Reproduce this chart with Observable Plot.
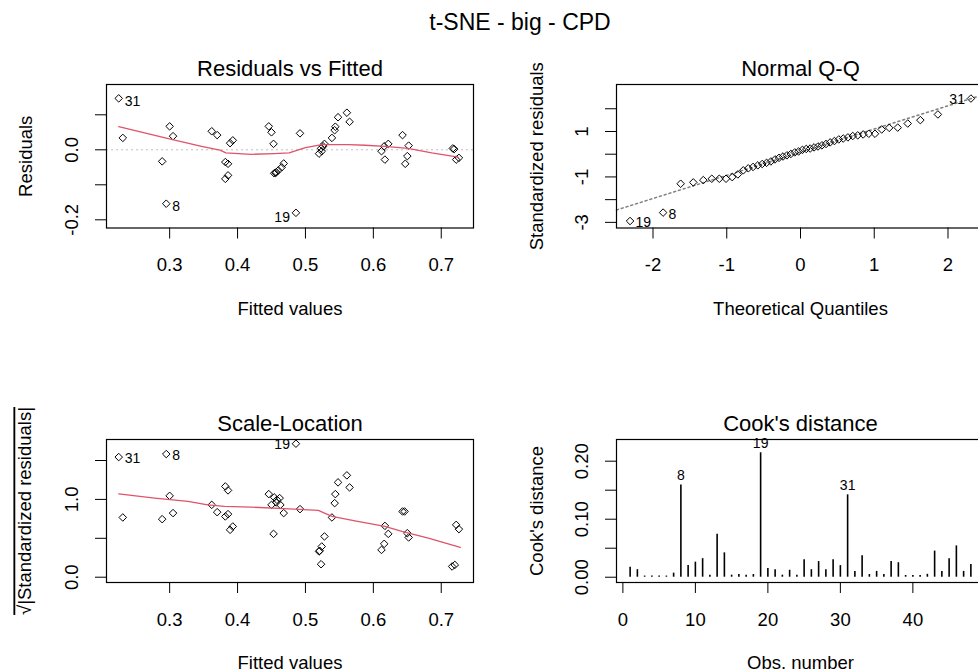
<!DOCTYPE html>
<html><head><meta charset="utf-8">
<script src="https://cdn.jsdelivr.net/npm/d3@7"></script>
<script src="https://cdn.jsdelivr.net/npm/@observablehq/plot@0.6"></script>
<style>
html,body{margin:0;padding:0;background:#fff;overflow:hidden;width:978px;height:672px;}
#wrap{position:relative;width:1040px;height:672px;font-family:"Liberation Sans",Arial,sans-serif;}
#title{position:absolute;left:0;top:9px;width:1040px;text-align:center;font-size:23px;line-height:26px;color:#000;}
.panel{position:absolute;}
</style></head><body>
<div id="wrap"><div id="title">t-SNE - big - CPD</div></div>
<script>
// ---------- data ----------
// Residuals vs Fitted
const rvFitted = [0.225,0.231,0.289,0.295,0.300,0.305,0.362,0.370,0.382,0.386,0.382,0.386,0.389,0.393,0.446,0.450,0.453,0.454,0.456,0.457,0.460,0.465,0.468,0.486,0.492,0.520,0.523,0.524,0.526,0.528,0.539,0.543,0.544,0.548,0.561,0.565,0.612,0.616,0.617,0.622,0.643,0.647,0.650,0.652,0.717,0.719,0.722,0.726];
const rvResid = [0.147,0.034,-0.033,-0.154,0.067,0.039,0.053,0.042,-0.035,-0.040,-0.083,-0.073,0.019,0.027,0.067,0.050,0.017,-0.067,-0.066,-0.064,-0.059,-0.050,-0.039,-0.180,0.047,-0.011,0.004,-0.004,0.010,0.017,0.034,0.056,0.066,0.093,0.106,0.080,-0.004,0.010,-0.028,0.017,0.042,-0.040,-0.018,0.012,0.004,0.002,-0.028,-0.023];
const rvIdIndex = [0, 3, 23];
const rvIdText = ["31", "8", "19"];
const rvLowessX = [0.225,0.298,0.347,0.374,0.383,0.420,0.454,0.476,0.500,0.524,0.563,0.588,0.617,0.651,0.686,0.725];
const rvLowessY = [0.066,0.032,0.010,-0.001,-0.009,-0.013,-0.011,-0.009,0.006,0.015,0.015,0.013,0.010,0.004,-0.009,-0.021];

// Normal Q-Q
const qqTheoretical = [-2.311,-1.863,-1.625,-1.454,-1.318,-1.203,-1.101,-1.010,-0.926,-0.849,-0.776,-0.708,-0.643,-0.579,-0.519,-0.460,-0.402,-0.346,-0.291,-0.237,-0.184,-0.131,-0.078,-0.026,0.026,0.078,0.131,0.184,0.237,0.291,0.346,0.402,0.460,0.519,0.579,0.643,0.708,0.776,0.849,0.926,1.010,1.101,1.203,1.318,1.454,1.625,1.863,2.311];
const qqStdResid = [-2.94,-2.57,-1.30,-1.24,-1.14,-1.08,-1.08,-1.08,-1.01,-0.89,-0.71,-0.62,-0.56,-0.49,-0.43,-0.38,-0.32,-0.23,-0.16,-0.10,-0.05,0.01,0.08,0.12,0.19,0.23,0.25,0.30,0.34,0.39,0.45,0.52,0.58,0.65,0.69,0.74,0.80,0.83,0.87,0.90,0.90,1.09,1.16,1.17,1.35,1.50,1.75,2.45];
const qqIdIndex = [0, 1, 47];
const qqIdText = ["19", "8", "31"];
const qqLineIntercept = 0.09;
const qqLineSlope = 1.02;

// Scale-Location
const slFitted = [0.225,0.231,0.289,0.295,0.300,0.305,0.362,0.370,0.382,0.386,0.382,0.386,0.389,0.393,0.446,0.450,0.453,0.454,0.457,0.458,0.462,0.463,0.468,0.486,0.492,0.520,0.521,0.523,0.524,0.528,0.539,0.543,0.544,0.548,0.561,0.565,0.612,0.616,0.617,0.622,0.643,0.646,0.650,0.652,0.716,0.720,0.722,0.726];
const slSqrtStd = [1.544,0.768,0.746,1.583,1.046,0.824,0.930,0.836,1.167,1.116,0.781,0.811,0.609,0.652,1.068,0.930,0.557,1.026,0.961,0.995,1.017,0.930,0.824,1.716,0.875,0.331,0.340,0.167,0.395,0.524,0.768,0.952,1.068,1.219,1.309,1.154,0.351,0.429,0.660,0.557,0.845,0.845,0.566,0.511,0.138,0.158,0.673,0.618];
const slIdIndex = [0, 3, 23];
const slIdText = ["31", "8", "19"];
const slLowessX = [0.225,0.278,0.327,0.356,0.381,0.420,0.476,0.519,0.539,0.573,0.617,0.642,0.681,0.728];
const slLowessY = [1.072,1.017,0.974,0.930,0.910,0.901,0.879,0.858,0.781,0.725,0.652,0.588,0.502,0.382];

// Cook's distance
const obsNumber = d3.range(1, 49);
const cooksD = [0.017,0.013,0.002,0.002,0.002,0.002,0.007,0.159,0.020,0.026,0.032,0.0035,0.074,0.042,0.0035,0.0046,0.0035,0.0046,0.2145,0.015,0.013,0.0035,0.012,0.0035,0.030,0.013,0.027,0.013,0.030,0.020,0.142,0.010,0.037,0.0046,0.010,0.0046,0.027,0.025,0.003,0.003,0.003,0.005,0.045,0.010,0.032,0.054,0.010,0.022];

// tick values / labels
const fittedTicks = [0.3, 0.4, 0.5, 0.6, 0.7];
const rvYTicks = [-0.2, -0.1, 0, 0.1];
const rvYLabels = [-0.2, 0];
const qqXTicks = [-2, -1, 0, 1, 2];
const qqYTicks = [-3, -2, -1, 0, 1, 2];
const qqYLabels = [-3, -1, 1];
const slYTicks = [0, 0.5, 1, 1.5];
const slYLabels = [0, 1];
const cookXTicks = [0, 10, 20, 30, 40];
const cookYTicks = [0, 0.05, 0.1, 0.15, 0.2];
const cookYLabels = [0, 0.1, 0.2];

// ---------- drawing ----------
const FONT = "'Liberation Sans', Arial, sans-serif";
const RED = "#DF536B";
const wrap = document.getElementById("wrap");

function panel(o) {
  const svg = Plot.plot({
    width: o.width, height: o.height,
    marginTop: o.mt, marginBottom: o.mb, marginLeft: o.ml, marginRight: o.mr,
    style: {fontFamily: FONT, fontSize: "18.5px", background: "transparent", overflow: "visible", color: "black"},
    x: {domain: o.xDomain, ticks: o.xTicks, tickSize: 11, tickPadding: 19, tickFormat: o.xFmt, label: null},
    y: {domain: o.yDomain, ticks: o.yTicks, tickSize: 11, tickFormat: () => "", label: null},
    marks: [
      ...o.marks,
      Plot.frame({stroke: "black", strokeWidth: 1.2}),
      Plot.text(o.yLabelTicks, {y: d => d, text: o.yFmt, frameAnchor: "left", dx: -34, rotate: -90, lineAnchor: "middle", textAnchor: "middle"}),
      Plot.text([o.title], {text: d => d, frameAnchor: "top", dy: -16, lineAnchor: "middle", textAnchor: "middle", fontSize: 22}),
      Plot.text([o.xLabel], {text: d => d, frameAnchor: "bottom", dy: 81, lineAnchor: "middle", textAnchor: "middle"}),
      Plot.text([o.yLabel], {text: d => d, frameAnchor: "left", dx: o.yLabelDx, rotate: -90, lineAnchor: "middle", textAnchor: "middle"})
    ]
  });
  svg.classList.add("panel");
  svg.style.left = o.left + "px";
  svg.style.top = o.top + "px";
  wrap.appendChild(svg);
  return svg;
}

const f1 = d => d.toFixed(1);
const f2 = d => d.toFixed(2);
const fi = d => String(d);
const pointStyle = {symbol: "diamond2", r: 3.4, stroke: "black", strokeWidth: 1, fill: "none"};

// Residuals vs Fitted
const rvPts = rvFitted.map((x, i) => ({x, y: rvResid[i]}));
const rvLow = rvLowessX.map((x, i) => ({x, y: rvLowessY[i]}));
const rvIds = rvIdIndex.map((i, k) => ({x: rvFitted[i], y: rvResid[i], t: rvIdText[k]}));
panel({
  left: 0, top: 40, width: 490, height: 300, mt: 44, mb: 112.5, ml: 106, mr: 17,
  xDomain: [0.207, 0.7475], yDomain: [-0.2234, 0.1866],
  xTicks: fittedTicks, yTicks: rvYTicks, yLabelTicks: rvYLabels, xFmt: f1, yFmt: f1,
  title: "Residuals vs Fitted", xLabel: "Fitted values", yLabel: "Residuals", yLabelDx: -80,
  marks: [
    Plot.ruleY([0], {stroke: "#BEBEBE", strokeDasharray: "2,3"}),
    Plot.dot(rvPts, {x: "x", y: "y", ...pointStyle}),
    Plot.line(rvLow, {x: "x", y: "y", stroke: RED, strokeWidth: 1.3}),
    Plot.text(rvIds.filter(d => d.x < 0.48), {x: "x", y: "y", text: "t", textAnchor: "start", dx: 6, dy: 3, fontSize: 14}),
    Plot.text(rvIds.filter(d => d.x >= 0.48), {x: "x", y: "y", text: "t", textAnchor: "end", dx: -6, dy: 5, fontSize: 14})
  ]
});

// Normal Q-Q
const qqPts = qqTheoretical.map((x, i) => ({x, y: qqStdResid[i]}));
const qqXDomain = [-2.495, 2.495];
const qqIds = qqIdIndex.map((i, k) => ({x: qqTheoretical[i], y: qqStdResid[i], t: qqIdText[k]}));
panel({
  left: 490, top: 40, width: 512, height: 300, mt: 44, mb: 112.5, ml: 126, mr: 18,
  xDomain: qqXDomain, yDomain: [-3.248, 3.068],
  xTicks: qqXTicks, yTicks: qqYTicks, yLabelTicks: qqYLabels, xFmt: fi, yFmt: fi,
  title: "Normal Q-Q", xLabel: "Theoretical Quantiles", yLabel: "Standardized residuals", yLabelDx: -79,
  marks: [
    Plot.line(qqXDomain, {x: d => d, y: d => qqLineIntercept + qqLineSlope * d, stroke: "#808080", strokeDasharray: "2,3"}),
    Plot.dot(qqPts, {x: "x", y: "y", ...pointStyle}),
    Plot.text(qqIds.filter(d => d.x < 0), {x: "x", y: "y", text: "t", textAnchor: "start", dx: 5.5, dy: 1.5, fontSize: 14}),
    Plot.text(qqIds.filter(d => d.x >= 0), {x: "x", y: "y", text: "t", textAnchor: "end", dx: -6, dy: 1, fontSize: 14})
  ]
});

// Scale-Location
const slPts = slFitted.map((x, i) => ({x, y: slSqrtStd[i]}));
const slLow = slLowessX.map((x, i) => ({x, y: slLowessY[i]}));
const slIds = slIdIndex.map((i, k) => ({x: slFitted[i], y: slSqrtStd[i], t: slIdText[k]}));
const slSvg = panel({
  left: 0, top: 340, width: 490, height: 332, mt: 99, mb: 90, ml: 106, mr: 17,
  xDomain: [0.207, 0.7475], yDomain: [-0.068, 1.770],
  xTicks: fittedTicks, yTicks: slYTicks, yLabelTicks: slYLabels, xFmt: f1, yFmt: f1,
  title: "Scale-Location", xLabel: "Fitted values", yLabel: "\u221A|Standardized residuals|", yLabelDx: -81,
  marks: [
    Plot.dot(slPts, {x: "x", y: "y", ...pointStyle}),
    Plot.line(slLow, {x: "x", y: "y", stroke: RED, strokeWidth: 1.3}),
    Plot.text(slIds.filter(d => d.x < 0.48), {x: "x", y: "y", text: "t", textAnchor: "start", dx: 6, dy: 1, fontSize: 14}),
    Plot.text(slIds.filter(d => d.x >= 0.48), {x: "x", y: "y", text: "t", textAnchor: "end", dx: -6, dy: 1, fontSize: 14})
  ]
});
slSvg.querySelectorAll("text").forEach(t => {
  if (t.textContent.startsWith("\u221A")) t.style.textDecoration = "overline";
});

// Cook's distance
const cookPts = obsNumber.map((x, i) => ({x, y: cooksD[i]}));
const cookTop = cookPts.slice().sort((a, b) => b.y - a.y).slice(0, 3).map(d => ({...d, t: String(d.x)}));
panel({
  left: 490, top: 340, width: 512, height: 332, mt: 99, mb: 90, ml: 126, mr: 18,
  xDomain: [-0.88, 49.88], yDomain: [-0.0091, 0.2374],
  xTicks: cookXTicks, yTicks: cookYTicks, yLabelTicks: cookYLabels, xFmt: fi, yFmt: f2,
  title: "Cook's distance", xLabel: "Obs. number", yLabel: "Cook's distance", yLabelDx: -79,
  marks: [
    Plot.ruleX(cookPts, {x: "x", y1: 0, y2: "y", stroke: "black", strokeWidth: 1.6}),
    Plot.text(cookTop, {x: "x", y: "y", text: "t", dy: -9.5, lineAnchor: "middle", textAnchor: "middle", fontSize: 14})
  ]
});
</script>
</body></html>
